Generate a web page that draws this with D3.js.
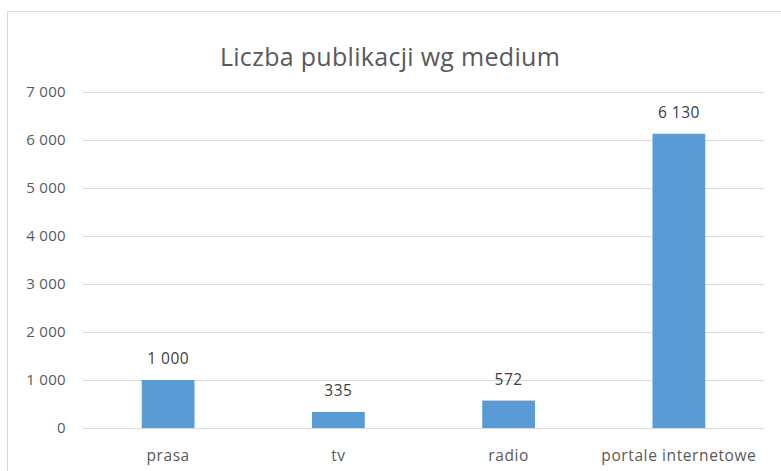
<!DOCTYPE html>
<html>
<head>
<meta charset="utf-8">
<script src="https://cdn.jsdelivr.net/npm/d3@7"></script>
<style>
  html, body { margin: 0; padding: 0; background: #fff; }
  svg { display: block; }
</style>
</head>
<body>
<svg id="chart" width="781" height="471"></svg>
<script>
const categories = ["prasa", "tv", "radio", "portale internetowe"];
const values = [1000, 335, 572, 6130];
const tickValues = [0, 1000, 2000, 3000, 4000, 5000, 6000, 7000];
const titleText = "Liczba publikacji wg medium";

const W = 781, H = 471;
const margin = { left: 83, right: 16, top: 92, bottom: 43 };
const fontFam = "'Open Sans', 'Liberation Sans', sans-serif";
const textColor = "#595959";

const svg = d3.select("#chart");

// chart area border
svg.append("rect")
  .attr("x", 7.5).attr("y", 11.5)
  .attr("width", 800).attr("height", 500)
  .attr("fill", "#fff")
  .attr("stroke", "#d9d9d9").attr("stroke-width", 1);

const x = d3.scaleBand()
  .domain(categories)
  .range([margin.left, W - margin.right - 1])
  .paddingInner(0.69)
  .paddingOuter(0.345);

const y = d3.scaleLinear()
  .domain([0, 7000])
  .range([H - margin.bottom, margin.top]);

const fmt = v => d3.format(",")(v).replace(/,/g, " ");

// gridlines
svg.append("g")
  .selectAll("line")
  .data(tickValues)
  .join("line")
  .attr("x1", margin.left).attr("x2", W - margin.right - 1)
  .attr("y1", d => Math.round(y(d)) + 0.5).attr("y2", d => Math.round(y(d)) + 0.5)
  .attr("stroke", "#d9d9d9").attr("stroke-width", 1);

// y axis labels
const yAxis = d3.axisLeft(y).tickValues(tickValues).tickFormat(fmt).tickSize(0).tickPadding(17);
const ya = svg.append("g").attr("transform", `translate(${margin.left},0)`).call(yAxis);
ya.select(".domain").remove();
ya.selectAll("text")
  .attr("fill", textColor)
  .style("font-family", fontFam)
  .style("font-size", "15px")
  .style("letter-spacing", "0.3px");

// bars
svg.append("g")
  .selectAll("rect")
  .data(values)
  .join("rect")
  .attr("x", (d, i) => x(categories[i]))
  .attr("width", x.bandwidth())
  .attr("y", d => y(d))
  .attr("height", d => y(0) - y(d))
  .attr("fill", "#5B9BD5");

// value labels
svg.append("g")
  .selectAll("text")
  .data(values)
  .join("text")
  .attr("x", (d, i) => x(categories[i]) + x.bandwidth() / 2)
  .attr("y", d => y(d) - 16)
  .attr("text-anchor", "middle")
  .attr("fill", "#404040")
  .style("font-family", fontFam)
  .style("font-size", "15.5px")
  .style("letter-spacing", "0.5px")
  .text(d => fmt(d));

// x axis labels
const xAxis = d3.axisBottom(x).tickSize(0).tickPadding(22);
const xa = svg.append("g").attr("transform", `translate(0,${y(0)})`).call(xAxis);
xa.select(".domain").remove();
xa.selectAll("text")
  .attr("fill", textColor)
  .style("font-family", fontFam)
  .style("font-size", "15.5px")
  .style("letter-spacing", "0.6px");

// title
svg.append("text")
  .attr("x", 390).attr("y", 66)
  .attr("text-anchor", "middle")
  .attr("fill", textColor)
  .style("font-family", fontFam)
  .style("font-size", "25px")
  .style("letter-spacing", "0.3px")
  .text(titleText);
</script>
</body>
</html>
